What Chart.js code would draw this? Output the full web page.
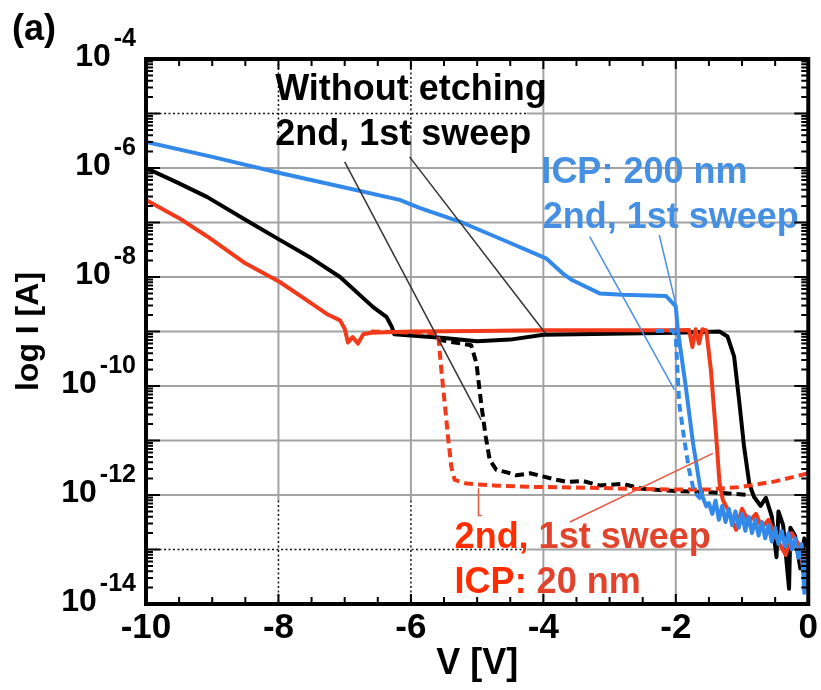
<!DOCTYPE html>
<html>
<head>
<meta charset="utf-8">
<script src="https://cdn.jsdelivr.net/npm/chart.js@4.4.1/dist/chart.umd.min.js"></script>
<style>
  html, body { margin: 0; padding: 0; background: #fff; }
</style>
</head>
<body>
<canvas id="iv" width="821" height="690"></canvas>
<script>
// ---- data: bias V [V], current I [A] ----

// without etching, 1st sweep (solid black)
const noEtch1V = [-10, -9.54, -9.08, -8.43, -7.98, -7.5, -7.07, -6.57, -6.37, -6.29, -6.25, -5.5, -5.0, -4.5, -4.0, -3.0, -2.0, -1.34, -1.22, -1.12, -1.04, -0.97, -0.89, -0.82, -0.72, -0.64, -0.55, -0.48, -0.45, -0.38, -0.29, -0.27, -0.2, -0.12, -0.06, 0];
const noEtch1I = [1.0e-6, 5.5e-7, 2.95e-7, 1.0e-7, 4.8e-8, 2.2e-8, 1.0e-8, 2.8e-9, 1.86e-9, 1.23e-9, 8.9e-10, 7.6e-10, 6.6e-10, 7.1e-10, 8.7e-10, 9.1e-10, 9.5e-10, 1.0e-9, 8.1e-10, 3.5e-10, 4.9e-11, 7.8e-12, 1.6e-12, 9.3e-13, 6.3e-13, 8.9e-13, 4.0e-13, 7.2e-14, 5.0e-13, 2.8e-13, 1.9e-14, 2.5e-13, 1.8e-13, 4.5e-14, 1.6e-13, 1.0e-13];

// without etching, 2nd sweep (dashed black)
const noEtch2V = [-5.6, -5.09, -5.01, -4.94, -4.87, -4.81, -4.71, -4.55, -4.41, -4.2, -4.01, -3.8, -3.65, -3.4, -3.15, -2.8, -2.5, -2.25, -1.9, -1.5, -1.2, -0.9];
const noEtch2I = [7.1e-10, 5.6e-10, 2.6e-10, 4.9e-11, 1.17e-11, 4.4e-12, 2.9e-12, 2.6e-12, 2.3e-12, 2.5e-12, 2.2e-12, 1.9e-12, 1.74e-12, 1.8e-12, 1.5e-12, 1.6e-12, 1.3e-12, 1.23e-12, 1.17e-12, 1.12e-12, 1.07e-12, 1.0e-12];

// ICP 20 nm, 1st sweep (solid red)
const icp20V1 = [-10, -9.5, -9.08, -8.5, -7.98, -7.58, -7.27, -7.07, -7.0, -6.95, -6.88, -6.8, -6.72, -6.6, -6.0, -5.0, -4.0, -3.0, -2.0, -1.8, -1.75, -1.7, -1.65, -1.6, -1.54, -1.47, -1.39, -1.34, -1.29, -1.2, -1.09, -1.0, -0.9, -0.79, -0.7, -0.6, -0.5, -0.34, -0.25, -0.15, -0.08, 0];
const icp20I1 = [2.6e-7, 1.2e-7, 5.6e-8, 1.78e-8, 8.1e-9, 3.8e-9, 2.1e-9, 1.6e-9, 1.12e-9, 6.3e-10, 7.9e-10, 6.0e-10, 8.9e-10, 9.5e-10, 1.0e-9, 1.02e-9, 1.05e-9, 1.05e-9, 1.05e-9, 1.07e-9, 5.2e-10, 1.1e-9, 6.0e-10, 1.1e-9, 1.05e-9, 1.95e-10, 1.17e-11, 1.66e-12, 8.1e-13, 5.0e-13, 2.3e-13, 5.6e-13, 3.2e-13, 4.5e-13, 2.5e-13, 3.5e-13, 1.8e-13, 7.9e-14, 2.0e-13, 1.26e-13, 5.0e-14, 1.0e-13];

// ICP 20 nm, 2nd sweep (dashed red)
const icp20V2 = [-6.6, -5.6, -5.58, -5.54, -5.49, -5.44, -5.39, -5.34, -5.16, -4.7, -4.16, -3.6, -3.15, -2.6, -2.0, -1.5, -1.0, -0.5, 0];
const icp20I2 = [1.0e-9, 9.3e-10, 6.9e-10, 1.95e-10, 4.9e-11, 1.17e-11, 3.3e-12, 1.9e-12, 1.62e-12, 1.48e-12, 1.41e-12, 1.38e-12, 1.35e-12, 1.29e-12, 1.26e-12, 1.26e-12, 1.41e-12, 1.78e-12, 2.5e-12];

// ICP 200 nm, 1st sweep (solid blue)
const icp200V1 = [-10, -9, -7.98, -7, -6.17, -5.87, -5.21, -4.5, -3.96, -3.71, -3.56, -3.15, -2.8, -2.15, -2.0, -1.97, -1.85, -1.74, -1.62, -1.54,
    -1.50, -1.45, -1.40, -1.35, -1.30, -1.25, -1.20, -1.15, -1.10, -1.05, -1.00, -0.95, -0.90, -0.85, -0.80, -0.75, -0.70, -0.65, -0.60, -0.55,
    -0.50, -0.45, -0.40, -0.35, -0.30, -0.25, -0.20, -0.15, -0.10, -0.06, -0.03, 0];
const icp200I1 = [3.0e-6, 1.6e-6, 8.1e-7, 4.4e-7, 2.6e-7, 1.86e-7, 9.8e-8, 4.2e-8, 2.2e-8, 1.17e-8, 8.7e-9, 5.0e-9, 4.7e-9, 4.5e-9, 2.9e-9, 1.07e-9, 9.8e-11, 8.9e-12, 1.1e-12, 6.2e-13,
    7.1e-13, 4.5e-13, 7.9e-13, 3.5e-13, 6.3e-13, 3.2e-13, 5.6e-13, 2.8e-13, 5.0e-13, 2.5e-13, 4.5e-13, 2.2e-13, 4.0e-13, 2.0e-13, 3.5e-13, 1.8e-13, 3.2e-13, 1.6e-13, 2.8e-13, 1.4e-13,
    2.5e-13, 1.26e-13, 2.2e-13, 1.12e-13, 2.0e-13, 1.0e-13, 1.6e-13, 7.1e-14, 1.26e-13, 1.6e-14, 6.3e-14, 4.0e-14];

// ICP 200 nm, 2nd sweep (dashed blue)
const icp200V2 = [-2.3, -2.05, -2.0, -1.95, -1.87, -1.8, -1.74, -1.68, -1.6];
const icp200I2 = [1.02e-9, 1.05e-9, 7.9e-10, 4.9e-11, 1.0e-11, 2.9e-12, 1.4e-12, 1.0e-12, 7.9e-13];

// leader lines from the labels to the curves
const leadBlackAV = [-7.0, -4.94],  leadBlackAI = [1.3e-6, 2.4e-11];
const leadBlackBV = [-6.02, -3.97], leadBlackBI = [1.6e-6, 9.3e-10];
const leadBlueCV = [-3.30, -2.02],  leadBlueCI = [5.5e-8, 8.5e-11];
const leadBlueDV = [-2.25, -1.98],  leadBlueDI = [5.9e-8, 2.5e-9];
const leadRedEV = [-4.98, -4.98, -4.93], leadRedEI = [1.3e-12, 4.2e-13, 4.2e-13];
const leadRedFV = [-3.60, -1.44],   leadRedFI = [3.2e-13, 5.8e-12];

// axes
const xMajor = [-10, -8, -6, -4, -2, 0];
const yDecades = [-14, -13, -12, -11, -10, -9, -8, -7, -6, -5, -4];
const yLabelExps = [-4, -6, -8, -10, -12, -14];

// ---- style ----
const FONT = '"Liberation Sans", Arial, sans-serif';
const BLACK = '#000000';
const RED = '#f23a1a';
const BLUE = '#3389ea';
const BLUE_TEXT = '#4690e4';
const RED_BRIGHT = '#ff2d00';
const RED_FADED = '#e2432c';
const GRID_GRAY = '#a3a3a3';

// annotation labels (anchored in data units)
const notes = [
    { v: -8.05, i: 1.77e-5, parts: [['Without etching', BLACK]] },
    { v: -8.05, i: 2.64e-6, parts: [['2nd, 1st sweep', BLACK]] },
    { v: -4.03, i: 5.2e-7,  parts: [['ICP: 200 nm', BLUE_TEXT]] },
    { v: -4.01, i: 7.8e-8,  parts: [['2nd, 1st sweep', BLUE_TEXT]] },
    { v: -5.34, i: 1.05e-13, parts: [['2nd,', RED_BRIGHT], [' 1st sweep', RED_FADED]] },
    { v: -5.34, i: 1.57e-14, parts: [['ICP:', RED_BRIGHT], [' 20 nm', RED_FADED]] }
];

// regions of the original figure where the grid is dotted
const PATCH_V = -4.25, PATCH_TOP = 10 ** -5.4, PATCH_BOTTOM = 10 ** -12.1;

function pts(xs, ys) { return xs.map((x, k) => ({ x, y: ys[k] })); }

function curve(label, xs, ys, color, dash, width) {
    return {
        label, data: pts(xs, ys),
        borderColor: color, borderWidth: width || 4,
        borderDash: dash || [], pointRadius: 0,
        tension: 0, fill: false, borderJoinStyle: 'round'
    };
}

function seg(ctx, x1, y1, x2, y2, dotted) {
    ctx.save();
    if (dotted) { ctx.strokeStyle = '#111'; ctx.lineWidth = 1.5; ctx.setLineDash([2, 2.5]); }
    else { ctx.strokeStyle = GRID_GRAY; ctx.lineWidth = 2; ctx.setLineDash([]); }
    ctx.beginPath(); ctx.moveTo(x1, y1); ctx.lineTo(x2, y2); ctx.stroke();
    ctx.restore();
}

const figurePlugin = {
    id: 'figure',
    beforeDatasetsDraw(chart) {
        const { ctx, chartArea: a, scales: { x, y } } = chart;
        const px = x.getPixelForValue(PATCH_V);
        // horizontal grid
        yDecades.forEach(e => {
            if (e === -14 || e === -4) return;
            const py = y.getPixelForValue(10 ** e);
            if (e === -5 || e === -13) {
                seg(ctx, a.left, py, px, py, true);
                seg(ctx, px, py, a.right, py, false);
            } else {
                seg(ctx, a.left, py, a.right, py, false);
            }
        });
        // vertical grid
        const yTop = y.getPixelForValue(PATCH_TOP), yBot = y.getPixelForValue(PATCH_BOTTOM);
        xMajor.forEach(v => {
            if (v === -10 || v === 0) return;
            const p = x.getPixelForValue(v);
            if (v < PATCH_V) {
                seg(ctx, p, a.top, p, yTop, true);
                seg(ctx, p, yTop, p, yBot, false);
                seg(ctx, p, yBot, p, a.bottom, true);
            } else {
                seg(ctx, p, a.top, p, a.bottom, false);
            }
        });
    },
    afterDraw(chart) {
        const { ctx, chartArea: a, scales: { x, y } } = chart;
        ctx.save();

        // annotation text
        ctx.font = 'bold 36px ' + FONT;
        ctx.textAlign = 'left';
        ctx.textBaseline = 'alphabetic';
        notes.forEach(n => {
            let tx = x.getPixelForValue(n.v);
            const ty = y.getPixelForValue(n.i);
            n.parts.forEach(([t, c]) => {
                ctx.fillStyle = c;
                ctx.fillText(t, tx, ty);
                tx += ctx.measureText(t).width;
            });
        });

        // frame
        ctx.strokeStyle = '#000';
        ctx.lineWidth = 4;
        ctx.strokeRect(a.left, a.top, a.right - a.left, a.bottom - a.top);

        // inward ticks
        ctx.lineWidth = 2;
        ctx.beginPath();
        yDecades.forEach(e => {
            for (let m = 1; m <= 9; m++) {
                const v = m * 10 ** e;
                if (v > 1e-4 * 1.0001) break;
                const py = y.getPixelForValue(v);
                const len = m === 1 ? 14 : 7;
                ctx.moveTo(a.left, py); ctx.lineTo(a.left + len, py);
                ctx.moveTo(a.right, py); ctx.lineTo(a.right - len, py);
            }
        });
        for (let k = 0; k <= 20; k++) {
            const v = -10 + k * 0.5;
            const p = x.getPixelForValue(v);
            const len = k % 4 === 0 ? 10 : 7;
            ctx.moveTo(p, a.bottom); ctx.lineTo(p, a.bottom - len);
            ctx.moveTo(p, a.top); ctx.lineTo(p, a.top + len);
        }
        ctx.stroke();

        // y tick labels with superscript exponents
        ctx.fillStyle = '#000';
        ctx.textAlign = 'right';
        const xr = a.left - 10;
        yLabelExps.forEach(e => {
            const py = y.getPixelForValue(10 ** e);
            const sup = String(e);
            ctx.font = 'bold 25px ' + FONT;
            const sw = ctx.measureText(sup).width;
            ctx.fillText(sup, xr, py - 13);
            ctx.font = 'bold 32px ' + FONT;
            ctx.fillText('10', xr - sw - 3, py + 7);
        });

        // panel tag
        ctx.textAlign = 'left';
        ctx.font = 'bold 36px ' + FONT;
        ctx.fillText('(a)', 12, 40);
        ctx.restore();
    }
};

new Chart(document.getElementById('iv'), {
    type: 'line',
    data: {
        datasets: [
            curve('lead A', leadBlackAV, leadBlackAI, '#333333', null, 1.5),
            curve('lead B', leadBlackBV, leadBlackBI, '#333333', null, 1.5),
            curve('lead C', leadBlueCV, leadBlueCI, '#4a8ee6', null, 1.5),
            curve('lead D', leadBlueDV, leadBlueDI, '#4a8ee6', null, 1.5),
            curve('lead E', leadRedEV, leadRedEI, '#e85a40', null, 1.5),
            curve('lead F', leadRedFV, leadRedFI, '#e85a40', null, 1.5),
            curve('ICP 200 nm 1st', icp200V1, icp200I1, BLUE),
            curve('ICP 200 nm 2nd', icp200V2, icp200I2, BLUE, [8, 5]),
            curve('ICP 20 nm 1st', icp20V1, icp20I1, RED),
            curve('ICP 20 nm 2nd', icp20V2, icp20I2, RED, [9, 5]),
            curve('no etching 1st', noEtch1V, noEtch1I, BLACK),
            curve('no etching 2nd', noEtch2V, noEtch2I, BLACK, [9, 5])
        ]
    },
    options: {
        responsive: false,
        animation: false,
        devicePixelRatio: 1,
        layout: { padding: { top: 59, right: 12, left: 0, bottom: 0 } },
        plugins: { legend: { display: false }, tooltip: { enabled: false } },
        scales: {
            x: {
                type: 'linear', min: -10, max: 0,
                afterFit: s => { s.height = 86; },
                afterBuildTicks: s => { s.ticks = xMajor.map(v => ({ value: v })); },
                grid: { display: false, drawTicks: false },
                border: { display: false },
                ticks: {
                    color: '#000', padding: 3, maxRotation: 0, autoSkip: false,
                    font: { family: FONT, size: 35, weight: 'bold' },
                    callback: v => String(v)
                },
                title: {
                    display: true, text: 'V [V]', color: '#000',
                    font: { family: FONT, size: 36, weight: 'bold' },
                    padding: { top: 0, bottom: 4 }
                }
            },
            y: {
                type: 'logarithmic', min: 1e-14, max: 1e-4,
                afterFit: s => { s.width = 146; },
                afterBuildTicks: s => { s.ticks = yDecades.map(e => ({ value: 10 ** e })); },
                grid: { display: false, drawTicks: false },
                border: { display: false },
                ticks: { display: false },
                title: {
                    display: true, text: 'log I [A]', color: '#000',
                    font: { family: FONT, size: 32, weight: 'bold' },
                    padding: { top: 10, bottom: 0 }
                }
            }
        }
    },
    plugins: [figurePlugin]
});
</script>
</body>
</html>
